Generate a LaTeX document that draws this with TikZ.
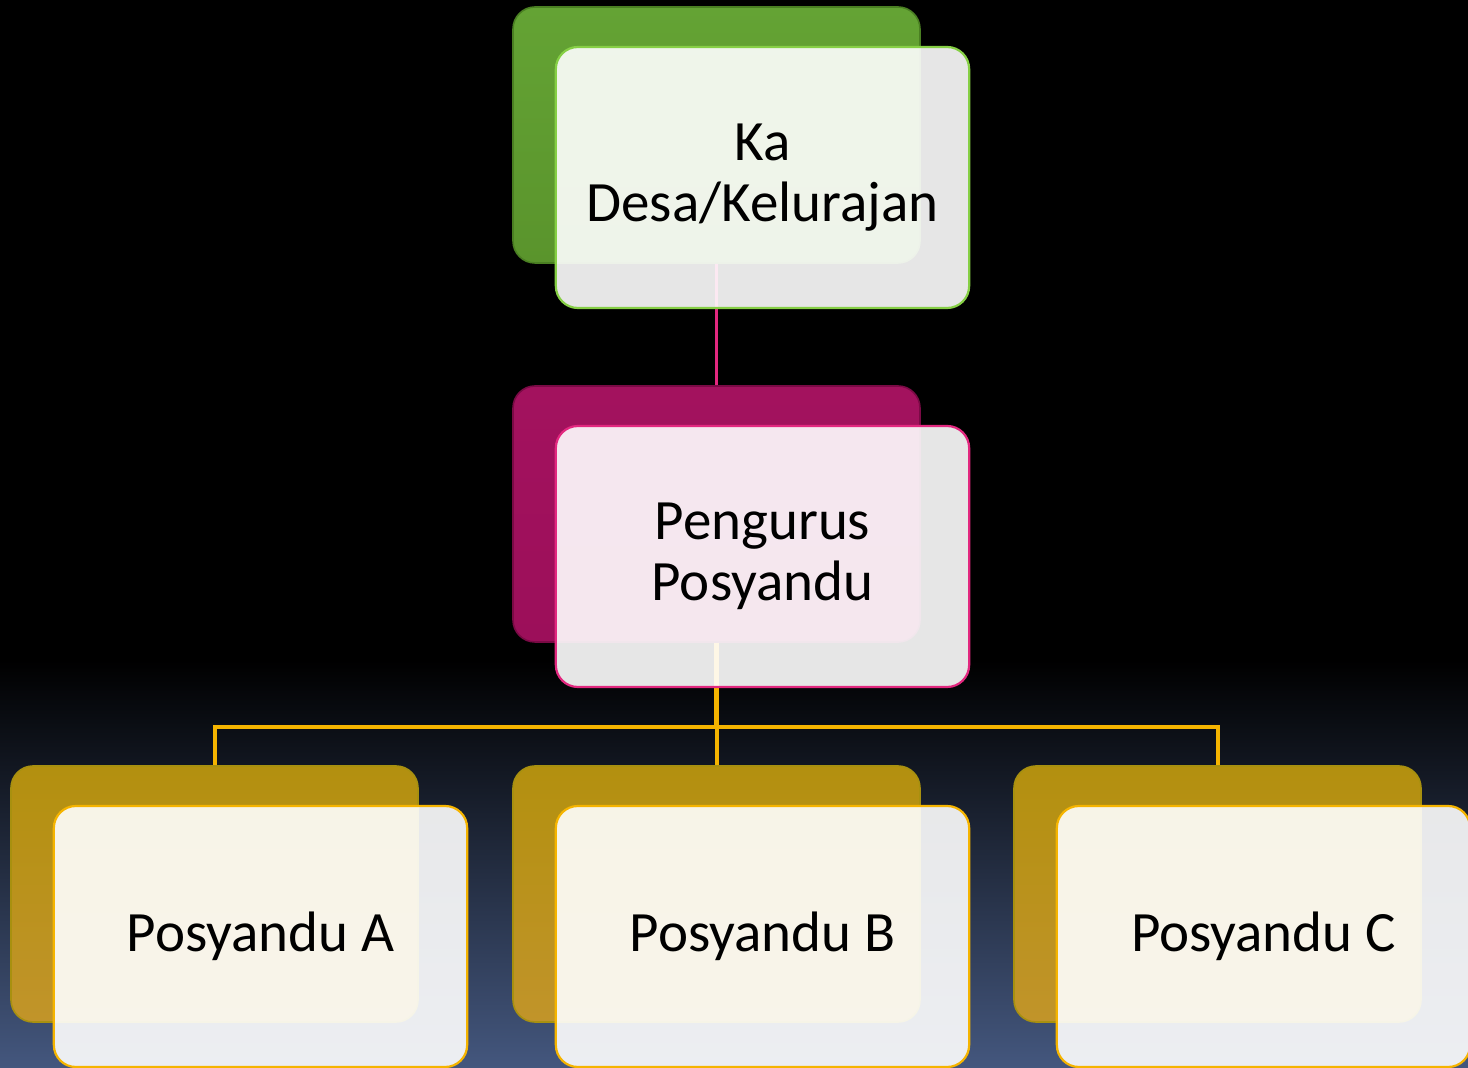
\documentclass[tikz,border=0pt]{standalone}
\usepackage{fontspec}
\setmainfont{Carlito}
\usetikzlibrary{calc}

\pgfdeclarelayer{bg}
\pgfdeclarelayer{back}
\pgfdeclarelayer{lines}
\pgfsetlayers{bg,back,lines,main}

\definecolor{limetop}{HTML}{64A334}
\definecolor{limebot}{HTML}{5A942C}
\definecolor{limeedge}{HTML}{4A7F22}
\definecolor{limeline}{HTML}{86CF45}
\definecolor{berrytop}{HTML}{A3125E}
\definecolor{berrybot}{HTML}{9C0F5A}
\definecolor{berryedge}{HTML}{7A0A45}
\definecolor{berryline}{HTML}{E2287F}
\definecolor{goldtop}{HTML}{B3900F}
\definecolor{goldbot}{HTML}{C1942A}
\definecolor{goldedge}{HTML}{A8900F}
\definecolor{goldline}{HTML}{F5B400}
\definecolor{navybot}{HTML}{44577E}

\begin{document}
\begin{tikzpicture}[x=0.5pt, y=-0.5pt,
  backcard/.style={rounded corners=11pt, minimum width=203.5pt, minimum height=128pt, line width=0.8pt},
  frontcard/.style={rounded corners=11pt, minimum width=205.5pt, minimum height=130.5pt,
    fill=white, fill opacity=0.9, text opacity=1, line width=1.1pt, align=center,
    font=\fontsize{28.5}{30.5}\selectfont},
  link/.style={line width=2pt}]

%─────────────
% Controls
%─────────────
\def\cardshiftx{46}   % front card offset from its back card
\def\cardshifty{42.5}

%─────────────────────────────────────────────────────────────
% One card: back plate + front plate with the text
%─────────────────────────────────────────────────────────────
\newcommand{\drawCard}[5]{%
  % #1 name, #2/#3 centre of the back plate, #4 colour set, #5 text
  \begin{pgfonlayer}{back}
    \node[backcard, draw=#4edge, top color=#4top, bottom color=#4bot] (#1-back) at (#2,#3) {};
  \end{pgfonlayer}
  \node[frontcard, draw=#4line] (#1) at ($(#1-back.center)+(\cardshiftx,\cardshifty)$) {\raisebox{-2pt}{\parbox{200pt}{\centering #5}}};
}

%─────────────
% Backdrop
%─────────────
\useasboundingbox (0,0) rectangle (1468,1068);
\begin{pgfonlayer}{bg}
  \fill[black] (0,0) rectangle (1468,1068);
  \shade[top color=black, bottom color=navybot] (0,660) rectangle (1468,1068);
\end{pgfonlayer}

%─────────────
% Cards
%─────────────
\drawCard{kades}{716.5}{135}{lime}{Ka\\Desa/Kelurajan}
\drawCard{pengurus}{716.5}{514}{berry}{Pengurus\\Posyandu}
\drawCard{posA}{214.5}{894}{gold}{Posyandu A}
\drawCard{posB}{716.5}{894}{gold}{Posyandu B}
\drawCard{posC}{1217.5}{894}{gold}{Posyandu C}

%─────────────
% Connectors
%─────────────
\begin{pgfonlayer}{lines}
  \draw[link, line width=1.7pt, draw=berryline] (kades-back.south) -- (pengurus-back.north);
  \coordinate (split) at ($(pengurus-back.south)+(0,84)$);
  \draw[link, line width=2.8pt, draw=goldline] (pengurus-back.south) -- (split);
  \foreach \p in {posA,posB,posC}
    \draw[link, draw=goldline] (split) -| (\p-back.north);
\end{pgfonlayer}

\end{tikzpicture}
\end{document}
